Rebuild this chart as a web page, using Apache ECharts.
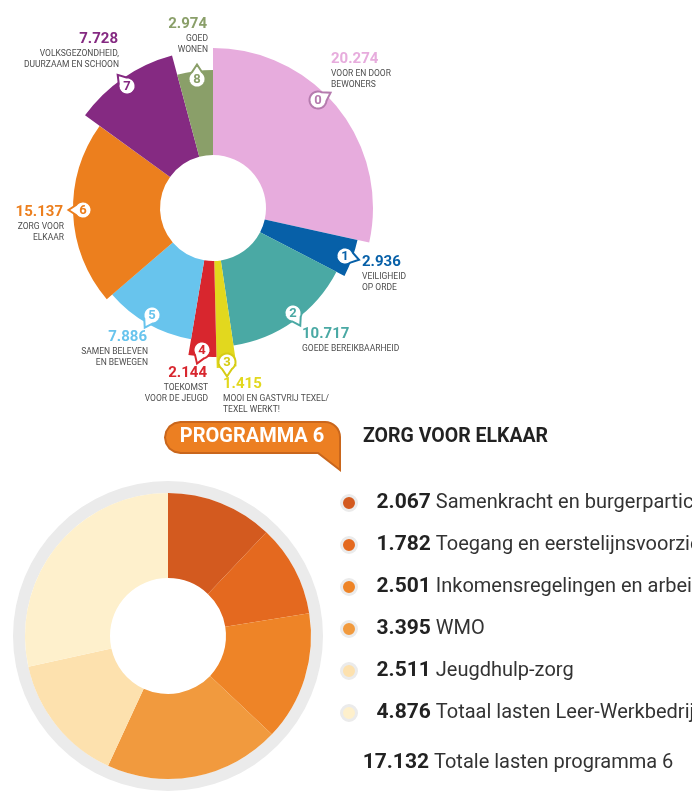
<!DOCTYPE html>
<html>
<head>
<meta charset="utf-8">
<script src="https://cdn.jsdelivr.net/npm/echarts@6/dist/echarts.min.js"></script>
<style>
html, body { margin: 0; padding: 0; background: #fff; }
#main { width: 692px; height: 794px; }
</style>
</head>
<body>
<div id="main"></div>
<script>
// lasten per programma (x 1.000)
var progValues = [20274, 2936, 10717, 1415, 2144, 7886, 15137, 7728, 2974];
var progNames = [
    'VOOR EN DOOR\nBEWONERS',
    'VEILIGHEID\nOP ORDE',
    'GOEDE BEREIKBAARHEID',
    'MOOI EN GASTVRIJ TEXEL/\nTEXEL WERKT!',
    'TOEKOMST\nVOOR DE JEUGD',
    'SAMEN BELEVEN\nEN BEWEGEN',
    'ZORG VOOR\nELKAAR',
    'VOLKSGEZONDHEID,\nDUURZAAM EN SCHOON',
    'GOED\nWONEN'
];
var progColors = ['#E7ACDD', '#0760A8', '#4AA9A4', '#E2D81E', '#D8262E', '#68C4ED', '#EC7F1E', '#852A82', '#8A9F69'];
// buitenstraal per taartpunt (alleen vormgeving)
var progRadius = [160, 148, 139, 160, 149, 133, 140, 158, 138];

// programma 6: zorg voor elkaar
var p6Values = [2067, 1782, 2501, 3395, 2511, 4876];
var p6Names = [
    'Samenkracht en burgerparticipatie',
    'Toegang en eerstelijnsvoorzieningen',
    'Inkomensregelingen en arbeidsparticipatie',
    'WMO',
    'Jeugdhulp-zorg',
    'Totaal lasten Leer-Werkbedrijf'
];
var p6Colors = ['#D35A1F', '#E4691F', '#EE8427', '#F19A3E', '#FDE1AE', '#FEF0CC'];
var p6Total = p6Values.reduce(function (a, b) { return a + b; }, 0);

// plek van labels en nummerballonnen
var labelPos = [
    [331, 59, 'left'], [362, 262, 'left'], [302, 334, 'left'], [223, 384, 'left'],
    [207, 373, 'right'], [147, 337, 'right'], [63, 212, 'right'], [118, 39, 'right'], [207, 24, 'right']
];
var bubblePos = [
    [318, 100, -30], [345, 256, 15], [293, 313, 60], [227, 362, 90],
    [202, 350, 110], [152, 315, 120], [83, 210, 180], [127, 86, -130], [197, 79, -90]
];
// rand van de ballon (roze krijgt een donkerder rand)
var bubbleStroke = ['#B57BAE', '#0760A8', '#4AA9A4', '#D6CC14', '#D8262E', '#68C4ED', '#EC7F1E', '#852A82', '#8A9F69'];

var FONT = 'Roboto, "Noto Sans", sans-serif';

function fmt(v) {
    return String(v).replace(/\B(?=(\d{3})+(?!\d))/g, '.');
}

// cirkel met staartje als polygoon
function bubblePoints(cx, cy, r, deg) {
    var d = deg * Math.PI / 180, a = 0.62, pts = [];
    for (var k = 0; k <= 40; k++) {
        var t = d + a + (2 * Math.PI - 2 * a) * k / 40;
        pts.push([cx + r * Math.cos(t), cy + r * Math.sin(t)]);
    }
    pts.push([cx + (r + 6) * Math.cos(d), cy + (r + 6) * Math.sin(d)]);
    return pts;
}

function arcPts(pts, cx, cy, r, a0, a1) {
    for (var k = 0; k <= 8; k++) {
        var t = (a0 + (a1 - a0) * k / 8) * Math.PI / 180;
        pts.push([cx + r * Math.cos(t), cy + r * Math.sin(t)]);
    }
}

// oranje label "PROGRAMMA 6" met punt rechtsonder
function badgePoints() {
    var pts = [];
    arcPts(pts, 180.5, 437.5, 15.5, 90, 270);
    arcPts(pts, 325, 437, 15, 270, 360);
    pts.push([340, 470]);
    pts.push([318, 453]);
    return pts;
}

var chart = echarts.init(document.getElementById('main'));

var series = [];
// één taart per programma, zodat elke punt een eigen straal kan krijgen
progValues.forEach(function (v, i) {
    series.push({
        type: 'pie',
        silent: true,
        animation: false,
        center: [213, 208],
        radius: [53, progRadius[i]],
        startAngle: 90,
        clockwise: true,
        label: { show: false },
        labelLine: { show: false },
        itemStyle: { borderWidth: 0 },
        data: progValues.map(function (val, j) {
            return {
                value: val,
                name: 'prog' + j,
                itemStyle: { color: j === i ? progColors[i] : 'rgba(0,0,0,0)' }
            };
        })
    });
});

series.push({
    name: 'Programma 6',
    type: 'pie',
    silent: true,
    animation: false,
    center: [168, 636],
    radius: [58, 143],
    startAngle: 90,
    clockwise: true,
    label: { show: false },
    labelLine: { show: false },
    itemStyle: { borderWidth: 0 },
    data: p6Values.map(function (v, i) {
        return { value: v, name: p6Names[i], itemStyle: { color: p6Colors[i] } };
    })
});

var graphics = [
    {
        type: 'ring', silent: true, z: -1,
        shape: { cx: 168, cy: 636, r: 155, r0: 143 },
        style: { fill: '#EBEBEB' }
    },
    {
        type: 'polygon', silent: true,
        shape: { points: badgePoints() },
        style: { fill: '#EC7F22', stroke: '#C9661C', lineWidth: 2 }
    },
    {
        type: 'text', silent: true,
        style: { text: 'PROGRAMMA 6', x: 252, y: 437, align: 'center', verticalAlign: 'middle',
            fontFamily: FONT, fontWeight: 'bold', fontSize: 20, fill: '#fff' }
    },
    {
        type: 'text', silent: true,
        style: { text: 'ZORG VOOR ELKAAR', x: 363, y: 437, verticalAlign: 'middle',
            fontFamily: FONT, fontWeight: 'bold', fontSize: 19.5, fill: '#222' }
    },
    {
        type: 'text', silent: true,
        style: { text: fmt(p6Total), x: 429, y: 763, align: 'right', verticalAlign: 'middle',
            fontFamily: FONT, fontWeight: 'bold', fontSize: 21, fill: '#222' }
    },
    {
        type: 'text', silent: true,
        style: { text: 'Totale lasten programma 6', x: 434, y: 763, verticalAlign: 'middle',
            fontFamily: FONT, fontSize: 20, fill: '#333' }
    }
];

progValues.forEach(function (v, i) {
    var p = labelPos[i], b = bubblePos[i];
    graphics.push({
        type: 'text', silent: true, z: 50,
        style: { text: fmt(v), x: p[0], y: p[1], align: p[2], verticalAlign: 'middle',
            fontFamily: FONT, fontWeight: 'bold', fontSize: 15, fill: progColors[i] }
    });
    graphics.push({
        type: 'text', silent: true, z: 50,
        style: { text: progNames[i], x: p[2] === 'right' ? p[0] + 1 : p[0], y: p[1] + 9, align: p[2], verticalAlign: 'top',
            fontFamily: FONT, fontSize: 8.5, lineHeight: 11.5, fill: '#4D4D4D' }
    });
    graphics.push({
        type: 'polygon', silent: true, z: 50,
        shape: { points: bubblePoints(b[0], b[1], 8.5, b[2]) },
        style: { fill: '#fff', stroke: bubbleStroke[i], lineWidth: 2 }
    });
    graphics.push({
        type: 'text', silent: true, z: 51,
        style: { text: String(i), x: b[0], y: b[1] + 0.5, align: 'center', verticalAlign: 'middle',
            fontFamily: FONT, fontWeight: 'bold', fontSize: 13, fill: bubbleStroke[i] }
    });
});

var option = {
    backgroundColor: '#fff',
    animation: false,
    legend: {
        data: p6Names,
        orient: 'vertical',
        left: 340,
        top: 491,
        padding: 0,
        itemGap: 18,
        icon: 'circle',
        itemWidth: 15,
        itemHeight: 15,
        selectedMode: false,
        itemStyle: { borderColor: '#EBEBEB', borderWidth: 3 },
        formatter: function (name) {
            var i = p6Names.indexOf(name);
            return '{v|' + fmt(p6Values[i]) + '}{n|' + name + '}';
        },
        textStyle: {
            lineHeight: 24,
            rich: {
                v: { fontFamily: FONT, fontWeight: 'bold', fontSize: 21, color: '#222', padding: [0, 0, 0, 15], lineHeight: 24 },
                n: { fontFamily: FONT, fontSize: 20, color: '#333', padding: [0, 0, 0, 5], lineHeight: 24 }
            }
        }
    },
    graphic: graphics,
    series: series
};

chart.setOption(option);
</script>
</body>
</html>
